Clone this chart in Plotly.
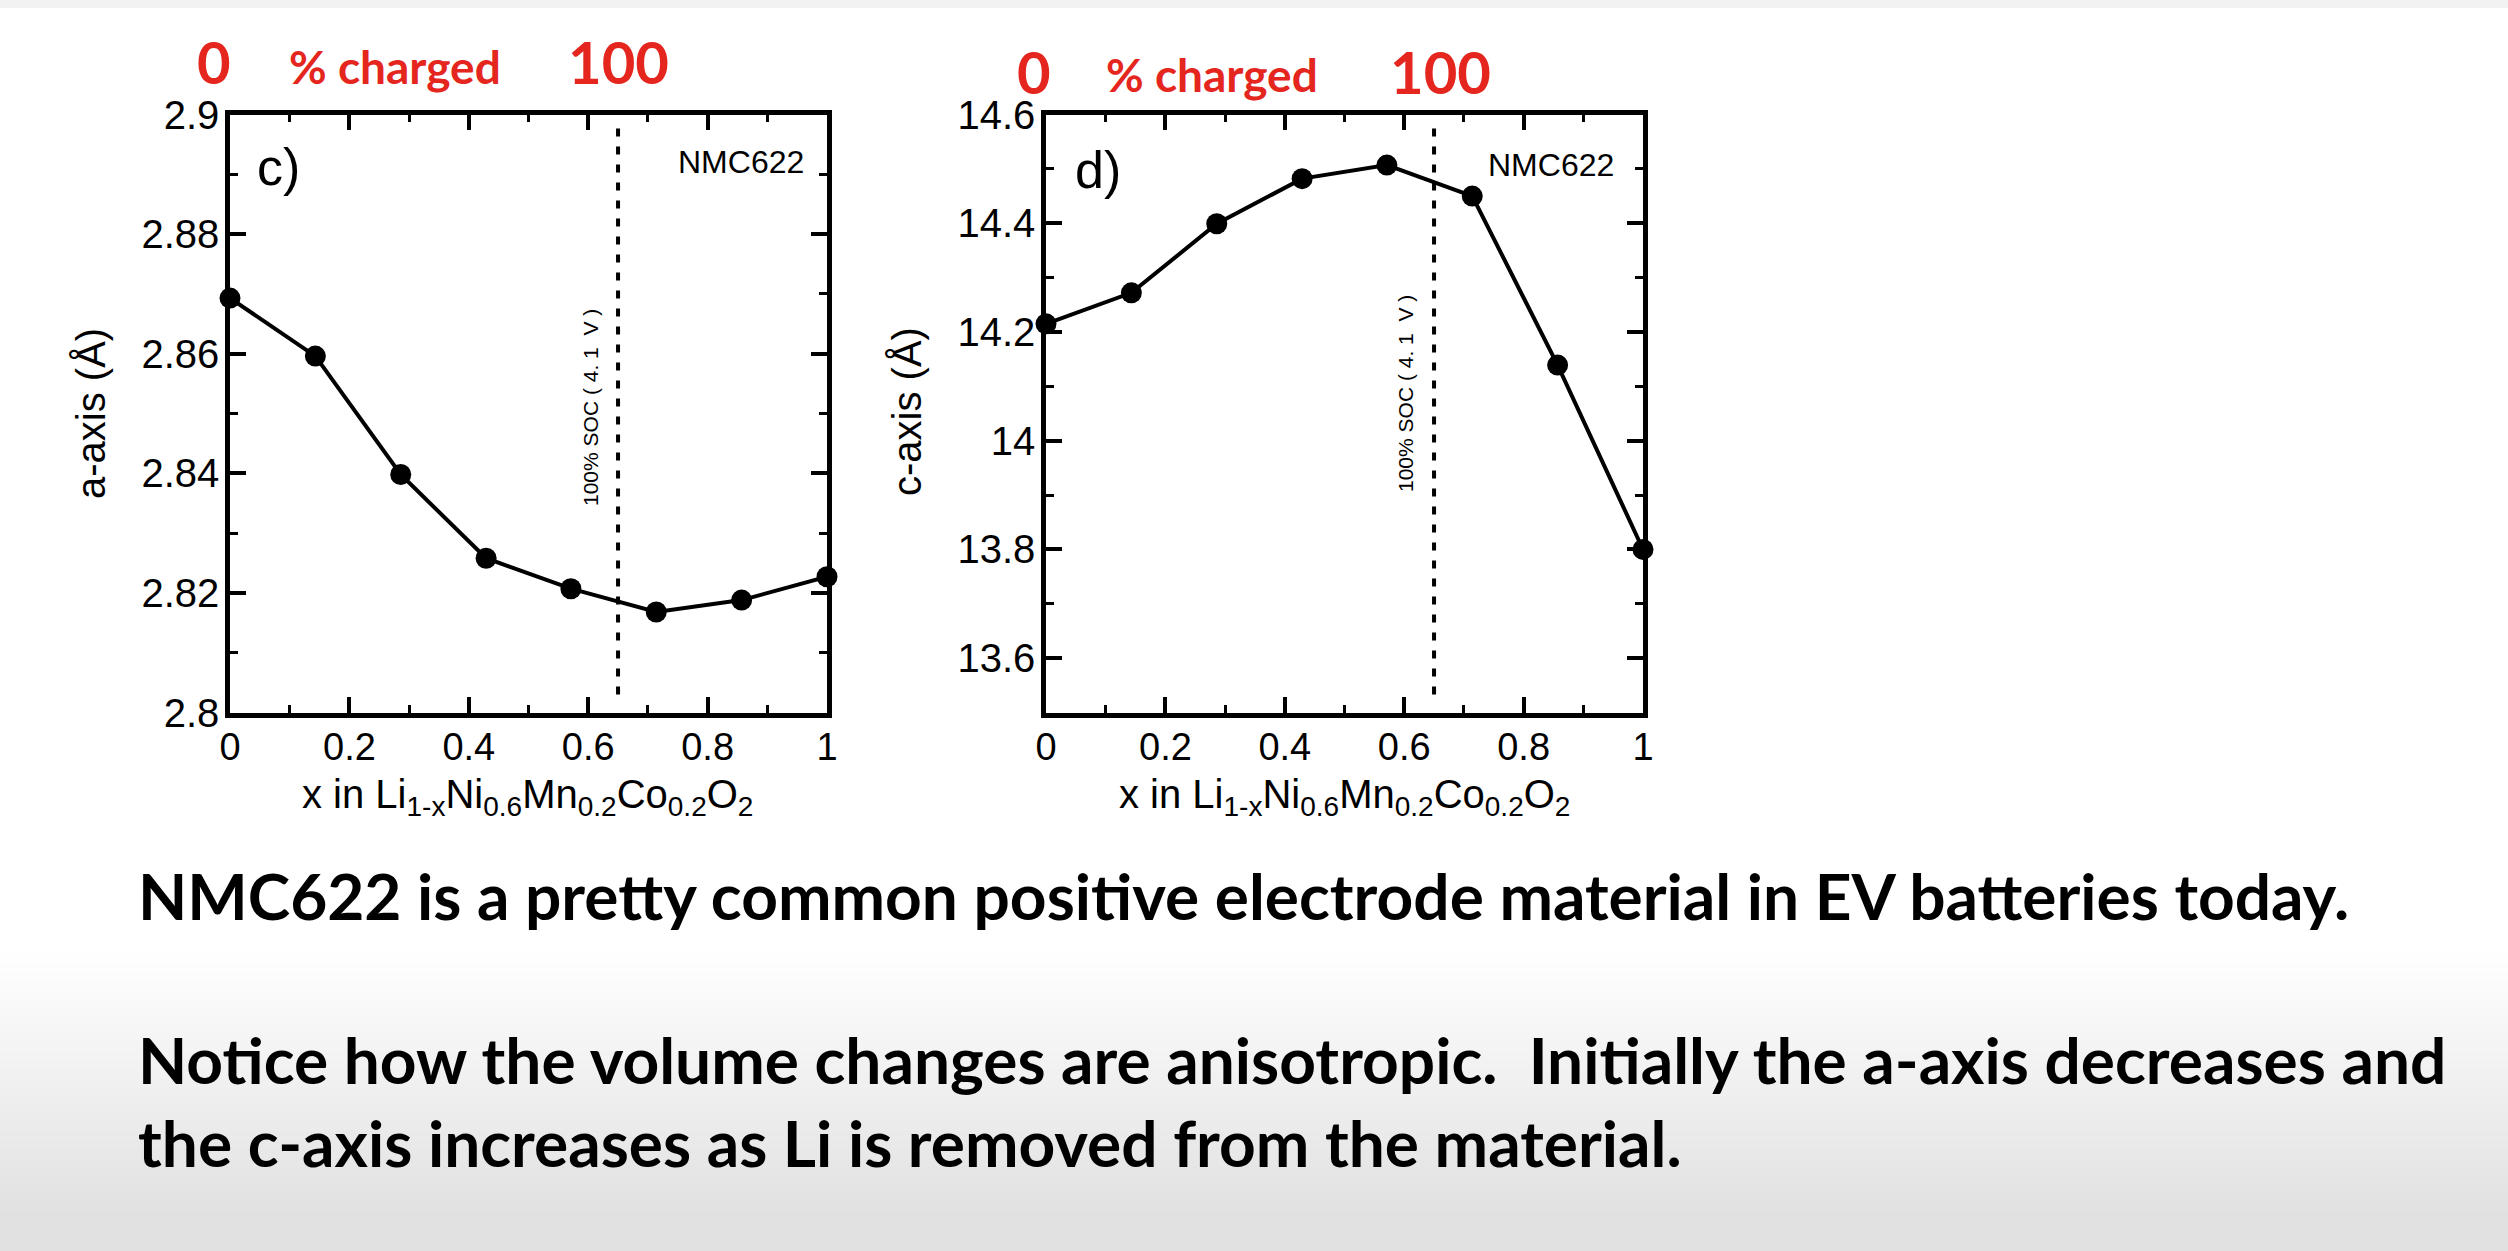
import plotly.graph_objects as go

W, H = 2508, 1251

# ---------------- data ----------------
x_frac = [0.0, 0.143, 0.286, 0.429, 0.571, 0.714, 0.857, 1.0]
a_axis = [2.8693, 2.8596, 2.8398, 2.8258, 2.8207, 2.8168, 2.8188, 2.8227]
c_axis = [14.215, 14.272, 14.399, 14.482, 14.507, 14.450, 14.139, 13.800]
soc_x = 0.65

x_tickvals = [0, 0.2, 0.4, 0.6, 0.8, 1]
x_ticktext = ["0", "0.2", "0.4", "0.6", "0.8", "1"]
a_tickvals = [2.8, 2.82, 2.84, 2.86, 2.88, 2.9]
a_ticktext = ["2.8", "2.82", "2.84", "2.86", "2.88", "2.9"]
c_tickvals = [13.6, 13.8, 14.0, 14.2, 14.4, 14.6]
c_ticktext = ["13.6", "13.8", "14", "14.2", "14.4", "14.6"]

x_title = "x in Li<sub>1-x</sub>Ni<sub>0.6</sub>Mn<sub>0.2</sub>Co<sub>0.2</sub>O<sub>2</sub>"
soc_label = "100% SOC (\u00a04.\u00a01\u00a0\u00a0V\u00a0)"
line1 = "NMC622 is a pretty common positive electrode material in EV batteries today."
line2 = "Notice how the volume changes are anisotropic.\u00a0 Initially the a-axis decreases and"
line3 = "the c-axis increases as Li is removed from the material."


def px(x):
    return x / W


def py(y):
    return 1 - y / H


AX_FONT = "Liberation Sans, Arial, sans-serif"
SLIDE_FONT = "Lato, Carlito, sans-serif"
RED = "#e4261e"

fig = go.Figure()

fig.add_trace(go.Scatter(x=x_frac, y=a_axis, mode="lines+markers", xaxis="x", yaxis="y",
                         line=dict(color="black", width=4),
                         marker=dict(color="black", size=21), cliponaxis=False, showlegend=False))
fig.add_trace(go.Scatter(x=x_frac, y=c_axis, mode="lines+markers", xaxis="x2", yaxis="y2",
                         line=dict(color="black", width=4),
                         marker=dict(color="black", size=21), cliponaxis=False, showlegend=False))

ydom = [py(712.5), py(114.5)]


def xaxis(dom, anchor):
    return dict(domain=dom, anchor=anchor, range=[0, 1], tickvals=x_tickvals, ticktext=x_ticktext,
                showline=True, linecolor="black", linewidth=4.5, mirror="allticks",
                ticks="inside", ticklen=16, tickwidth=4, tickcolor="black",
                minor=dict(ticks="inside", ticklen=8, tickwidth=3, tickcolor="black", dtick=0.1),
                showgrid=False, zeroline=False, automargin=False, ticklabelstandoff=-3,
                tickfont=dict(family=AX_FONT, size=38, color="black"))


def yaxis(rng, tv, tt, minor_dtick, anchor):
    return dict(domain=ydom, anchor=anchor, range=rng, tickvals=tv, ticktext=tt,
                showline=True, linecolor="black", linewidth=4.5, mirror="allticks",
                ticks="inside", ticklen=16, tickwidth=4, tickcolor="black",
                minor=dict(ticks="inside", ticklen=8, tickwidth=3, tickcolor="black",
                           tick0=rng[0], dtick=minor_dtick),
                showgrid=False, zeroline=False, automargin=False, ticklabelstandoff=-2,
                tickfont=dict(family=AX_FONT, size=40, color="black"))


shapes = []
# background gradient at the bottom of the slide
g0, g1 = 950, 1215
n = 60
for i in range(n):
    t = (i + 0.5) / n
    v = int(round(255 - 30 * t))
    y0 = g0 + (g1 - g0) * i / n
    y1 = g0 + (g1 - g0) * (i + 1) / n + 1
    shapes.append(dict(type="rect", xref="paper", yref="paper", x0=0, x1=1, y0=py(y1), y1=py(y0),
                       fillcolor=f"rgb({v},{v},{v})", line=dict(width=0), layer="below"))
shapes.append(dict(type="rect", xref="paper", yref="paper", x0=0, x1=1, y0=0, y1=py(g1),
                   fillcolor="rgb(225,225,225)", line=dict(width=0), layer="below"))
shapes.append(dict(type="rect", xref="paper", yref="paper", x0=0, x1=1, y0=py(8), y1=1,
                   fillcolor="rgb(242,242,242)", line=dict(width=0), layer="below"))

for xr, yr in (("x", "y domain"), ("x2", "y2 domain")):
    shapes.append(dict(type="line", xref=xr, yref=yr, x0=soc_x, x1=soc_x, y0=0.03, y1=0.98,
                       line=dict(color="black", width=4, dash="8px,10px")))

ann = []


def text(x, y, s, size, family=AX_FONT, color="black", bold=False, angle=0, xanchor="center"):
    if bold:
        s = f"<b>{s}</b>"
    ann.append(dict(x=px(x), y=py(y), xref="paper", yref="paper", text=s, showarrow=False,
                    font=dict(family=family, size=size, color=color), textangle=angle,
                    xanchor=xanchor, yanchor="middle"))


# red labels
text(214, 62, "0", 58, SLIDE_FONT, RED, True)
text(395, 66, "% charged", 46, SLIDE_FONT, RED, True)
text(618, 62, "100", 58, SLIDE_FONT, RED, True)
text(1034, 71, "0", 58, SLIDE_FONT, RED, True)
text(1212, 75, "% charged", 46, SLIDE_FONT, RED, True)
text(1440, 71, "100", 58, SLIDE_FONT, RED, True)

# panel labels
text(278, 167, "c)", 52)
text(1098, 170, "d)", 52)
text(741, 162, "NMC622", 32)
text(1551, 165, "NMC622", 32)
text(591, 408, soc_label, 21, angle=-90)
text(1405, 394, soc_label, 21, angle=-90)

# axis titles
text(91, 414, "a-axis (Å)", 40, angle=-90)
text(907, 412, "c-axis (Å)", 40, angle=-90)
text(527, 797, x_title, 40)
text(1344, 797, x_title, 40)

# slide text
text(136, 895, line1, 64, SLIDE_FONT, "black", True, xanchor="left")
text(136, 1059, line2, 64, SLIDE_FONT, "black", True, xanchor="left")
text(136, 1142, line3, 64, SLIDE_FONT, "black", True, xanchor="left")

fig.update_layout(
    width=W, height=H, margin=dict(l=0, r=0, t=0, b=0),
    paper_bgcolor="white", plot_bgcolor="white",
    xaxis=xaxis([px(230), px(827)], "y"),
    yaxis=yaxis([2.8, 2.9], a_tickvals, a_ticktext, 0.01, "x"),
    xaxis2=xaxis([px(1046), px(1643)], "y2"),
    yaxis2=yaxis([13.5, 14.6], c_tickvals, c_ticktext, 0.1, "x2"),
    shapes=shapes, annotations=ann, showlegend=False,
)

fig.write_html("out.html")
